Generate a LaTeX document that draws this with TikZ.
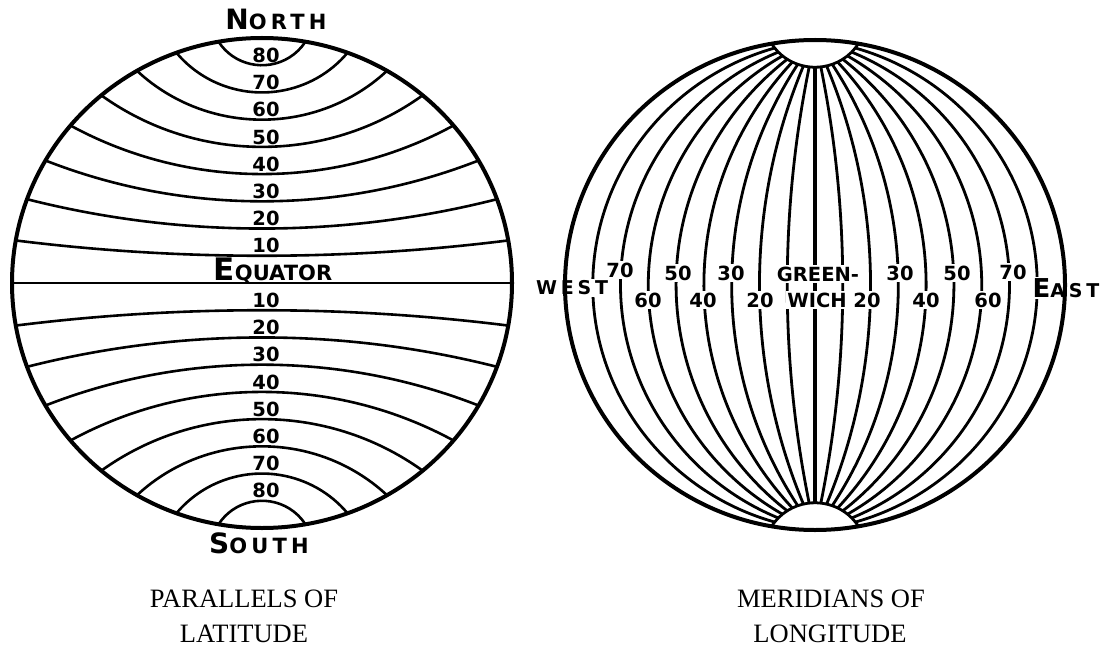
\documentclass[tikz,border=0pt]{standalone}
\usepackage{fontspec}
\setmainfont{Liberation Serif}
\newfontfamily\handfont{DejaVu Sans}
\newfontfamily\handwide{DejaVu Sans}[LetterSpace=20]
\newcommand\handlab{\handfont\bfseries\fontsize{19.5}{19.5}\selectfont}
\newcommand\handwlab{\handwide\bfseries\fontsize{19}{19}\selectfont}
\begin{document}
\begin{tikzpicture}[x=1pt,y=1pt,
  rim/.style={line width=4pt},
  par/.style={line width=2.6pt},
  mer/.style={line width=2.8pt},
  axis/.style={line width=4pt},
  num/.style={font=\handlab, inner sep=0pt, anchor=base},
  wnum/.style={font=\handwlab, inner sep=0pt, anchor=base},
  rnum/.style={font=\handlab, inner sep=1.5pt, fill=white},
  rwide/.style={font=\handwlab, inner sep=1.5pt, fill=white},
  captext/.style={font=\fontsize{26.5}{26.5}\selectfont, inner sep=0pt, anchor=base}]
\useasboundingbox (0,0) rectangle (1103,-650);

% ---------- left globe: parallels ----------
\begin{scope}[shift={(262,-283)}, xscale=250, yscale=245]
  \foreach \p in {10,20,...,80}{
    \pgfmathsetmacro\latM{\p/90}
    \pgfmathsetmacro\latS{sin(\p)}
    \pgfmathsetmacro\latC{cos(\p)}
    \pgfmathsetmacro\latK{(1-\latM*\latM)/(2*(\latS-\latM))}
    \pgfmathsetmacro\latR{\latK-\latM}
    \pgfmathsetmacro\latA{atan2(\latS-\latK,\latC)}
    \pgfmathsetmacro\latB{-180-\latA}
    \pgfmathsetmacro\latBB{180+\latA}
    \pgfmathsetmacro\latAA{-\latA}
    \draw[par] (-\latC,\latS) arc[start angle=\latB, end angle=\latA, radius=\latR];
    \draw[par] (-\latC,-\latS) arc[start angle=\latBB, end angle=\latAA, radius=\latR];
  }
  \draw[par] (-1,0) -- (1,0);
  \draw[rim] (0,0) circle[radius=1];
\end{scope}

% left labels
\foreach \p in {10,20,...,80}{
  \pgfmathsetmacro\ly{-283+2.72222*\p+2.8}
  \pgfmathsetmacro\lys{-283-2.72222*\p+2.8}
  \node[num] (n\p) at (266,\ly) {\p};
  \node[num] (s\p) at (266,\lys) {\p};
}
\node[num] (eq) at (273,-280.5) {{\fontsize{31}{31}\selectfont E}{\fontsize{21}{21}\selectfont QUATOR}};
\node[wnum] (north) at (276,-30) {{\fontsize{28}{28}\selectfont N}{\fontsize{21}{21}\selectfont ORTH}};
\node[wnum] (south) at (259,-553) {{\fontsize{28}{28}\selectfont S}{\fontsize{21}{21}\selectfont OUTH}};

% ---------- right globe: meridians ----------
\begin{scope}[shift={(815,-285)}, xscale=250, yscale=245]
  \pgfmathsetmacro\cM{80/90}
  \pgfmathsetmacro\cS{sin(80)}
  \pgfmathsetmacro\cC{cos(80)}
  \pgfmathsetmacro\cK{(1-\cM*\cM)/(2*(\cS-\cM))}
  \pgfmathsetmacro\cR{\cK-\cM}
  \pgfmathsetmacro\cA{atan2(\cS-\cK,\cC)}
  \pgfmathsetmacro\cB{-180-\cA}
  \pgfmathsetmacro\cBB{180+\cA}
  \pgfmathsetmacro\cAA{-\cA}
  \begin{scope}
    \clip (-\cC,\cS) arc[start angle=\cB, end angle=\cA, radius=\cR]
      arc[start angle=80, end angle=-80, radius=1]
      arc[start angle=\cAA, end angle=\cBB, radius=\cR]
      arc[start angle=260, end angle=100, radius=1] -- cycle;
    \foreach \k in {1,...,8}{
      \pgfmathsetmacro\mx{\k/9}
      \pgfmathsetmacro\mc{(\mx*\mx-1)/(2*\mx)}
      \pgfmathsetmacro\mr{\mx-\mc}
      \pgfmathsetmacro\mt{atan2(1,-\mc)}
      \pgfmathsetmacro\mtn{-\mt}
      \pgfmathsetmacro\mwa{180+\mt}
      \pgfmathsetmacro\mwb{180-\mt}
      \draw[mer] (0,-1) arc[start angle=\mtn, end angle=\mt, radius=\mr];
      \draw[mer] (0,-1) arc[start angle=\mwa, end angle=\mwb, radius=\mr];
    }
    \draw[axis] (0,-1) -- (0,1);
  \end{scope}
  \draw[mer] (-\cC,\cS) arc[start angle=\cB, end angle=\cA, radius=\cR];
  \draw[mer] (\cC,-\cS) arc[start angle=\cAA, end angle=\cBB, radius=\cR];
\end{scope}

% right labels
\node[rnum] (w70) at (620,-270) {70};
\node[rnum] (w60) at (648,-300) {60};
\node[rnum] (w50) at (678,-273) {50};
\node[rnum] (w40) at (703,-300) {40};
\node[rnum] (w30) at (731,-273) {30};
\node[rnum] (w20) at (760,-300) {20};
\node[rnum] (green) at (818,-274) {GREEN-};
\node[rnum] (wich) at (817,-300) {WICH};
\node[rnum] (e20) at (867,-300) {20};
\node[rnum] (e30) at (900,-273) {30};
\node[rnum] (e40) at (926,-300) {40};
\node[rnum] (e50) at (957,-273) {50};
\node[rnum] (e60) at (988,-300) {60};
\node[rnum] (e70) at (1013,-272) {70};
\node[rwide] (west) at (572,-288) {WEST};
\node[rwide] (east) at (1066,-288) {{\fontsize{26}{26}\selectfont E}AST};

\draw[rim] (815,-285) ellipse[x radius=250, y radius=245];

% captions
\node[captext] (c1) at (244,-607) {PARALLELS OF};
\node[captext] (c2) at (244,-642) {LATITUDE};
\node[captext] (c3) at (831,-607) {MERIDIANS OF};
\node[captext] (c4) at (830,-642) {LONGITUDE};
\end{tikzpicture}
\end{document}
